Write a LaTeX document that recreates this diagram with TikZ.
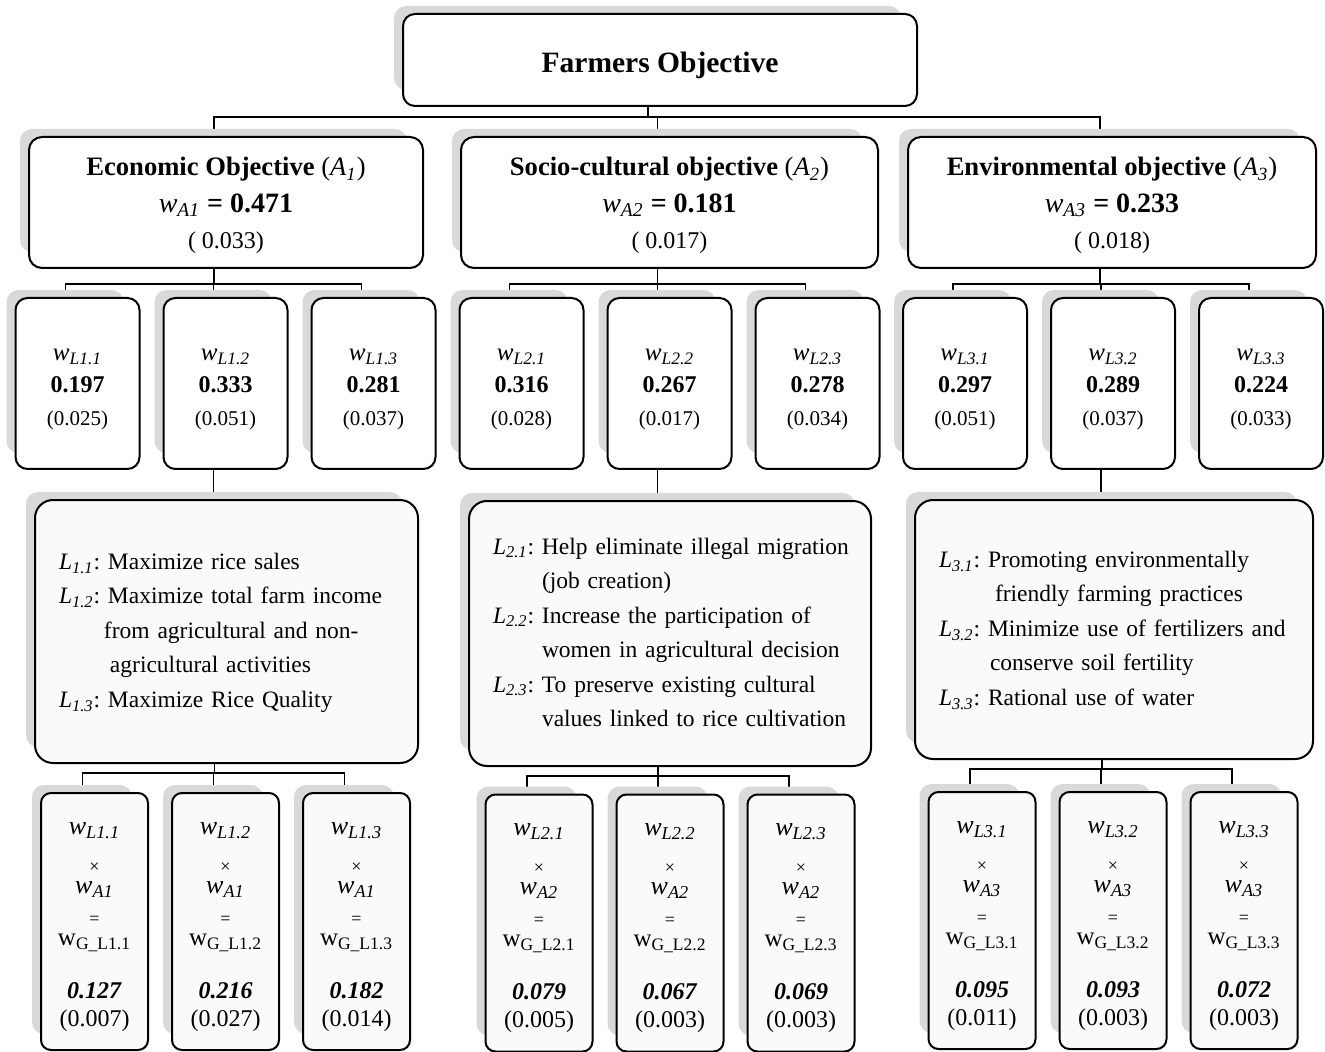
\documentclass[tikz,border=0pt]{standalone}
\usepackage{fontspec}
\setmainfont{Liberation Serif}
\usetikzlibrary{positioning}
\pgfdeclarelayer{back}
\pgfsetlayers{back,main}

% weights and labels
\newcommand{\wi}[1]{\textit{w}\textsubscript{\textit{#1}}}
\newcommand{\li}[1]{\textit{L}\textsubscript{\textit{#1}}}
\newcommand{\ai}[1]{\textit{A}\textsubscript{\textit{#1}}}
\newcommand{\wg}[1]{w\textsubscript{G\_#1}}
% local weight box text
\newcommand{\loc}[3]{\rule{0pt}{11.7pt}{\fontsize{12.5}{16.25}\selectfont\wi{L#1}}\\\textbf{#2}\\{\fontsize{10.5}{16.25}\selectfont(#3)}}
% global weight box text
\newcommand{\glob}[4]{\rule{0pt}{11.5pt}{\fontsize{13}{12}\selectfont\wi{L#1}}\\[7pt]{\fontsize{9}{12}\selectfont ×}\\[-1.5pt]{\fontsize{13}{12}\selectfont\wi{A#2}}\\[3.5pt]{\fontsize{9}{12}\selectfont =}\\[-1.5pt]{\fontsize{12.5}{12}\selectfont\wg{L#1}}\\[14.5pt]\textbf{\textit{#3}}\\[2pt](#4)}
% criterion box text
\newcommand{\crt}[4]{\rule{0pt}{12.5pt}\textbf{#1} (\ai{#2})\\{\fontsize{14}{18.25}\selectfont\wi{A#2} \textbf{= #3}}\\{\fontsize{12}{18.25}\selectfont( #4)}}

\begin{document}
\begin{tikzpicture}[
    x=0.5pt, y=-0.5pt,
    every node/.style={outer sep=0pt},
    goal/.style={draw, line width=1pt, rounded corners=6pt, fill=white, minimum width=257pt, minimum height=46pt, font=\fontsize{14.75}{17}\selectfont\bfseries},
    crit/.style={draw, line width=1pt, rounded corners=6.5pt, fill=white, minimum height=65.5pt, align=center, font=\fontsize{13.3}{18.25}\selectfont},
    wbox/.style={draw, line width=1pt, rounded corners=6pt, fill=white, minimum width=62pt, minimum height=85.5pt, align=center, font=\fontsize{12}{16.25}\selectfont},
    tbox/.style={draw, line width=1pt, rounded corners=9pt, fill=black!2, inner xsep=12pt, align=left, font=\fontsize{11.75}{17.25}\selectfont},
    gbox/.style={draw, line width=1pt, rounded corners=5pt, fill=black!2, minimum width=53.5pt, minimum height=128.5pt, align=center, font=\fontsize{12}{12}\selectfont},
    link/.style={line width=0.6pt},
    backdrop/.style={fill=black!15, rounded corners=6pt}
  ]
  \useasboundingbox (0,0) rectangle (1325,1052);

  \node[goal] (goal) at (660,60) {\rule{0pt}{15.5pt}Farmers Objective};

  \node[crit, minimum width=197pt] (A1) at (226,202.5) {\crt{Economic Objective}{1}{0.471}{0.033}};
  \node[crit, minimum width=208.5pt] (A2) at (669.5,202.5) {\crt{Socio-cultural objective}{2}{0.181}{0.017}};
  \node[crit, minimum width=204pt] (A3) at (1112,202.5) {\crt{Environmental objective}{3}{0.233}{0.018}};

  % local weights
  \node[wbox] (L12) at (225.5,383.5) {\loc{1.2}{0.333}{0.051}};
  \node[wbox, left=12pt of L12] (L11) {\loc{1.1}{0.197}{0.025}};
  \node[wbox, right=12pt of L12] (L13) {\loc{1.3}{0.281}{0.037}};
  \node[wbox] (L22) at (669.5,383.5) {\loc{2.2}{0.267}{0.017}};
  \node[wbox, left=12pt of L22] (L21) {\loc{2.1}{0.316}{0.028}};
  \node[wbox, right=12pt of L22] (L23) {\loc{2.3}{0.278}{0.034}};
  \node[wbox] (L32) at (1113,383.5) {\loc{3.2}{0.289}{0.037}};
  \node[wbox, left=12pt of L32] (L31) {\loc{3.1}{0.297}{0.051}};
  \node[wbox, right=12pt of L32] (L33) {\loc{3.3}{0.224}{0.033}};

  % sub-objectives
  \node[tbox, text width=167.5pt, minimum height=131.5pt] (T1) at (226.5,631.5) {\begin{tabular}{@{}l@{\ }l@{}}
    \li{1.1}: & Maximize rice sales\\
    \li{1.2}: & Maximize total farm income\\
    & \hspace{-2pt}from agricultural and non-\\
    & \hspace{1pt}agricultural activities\\
    \li{1.3}: & Maximize Rice Quality
  \end{tabular}};
  \node[tbox, text width=177pt, minimum height=132.5pt] (T2) at (670,633.5) {\begin{tabular}{@{}l@{\ }l@{}}
    \li{2.1}: & Help eliminate illegal migration\\
    & (job creation)\\
    \li{2.2}: & Increase the participation of\\
    & women in agricultural decision\\
    \li{2.3}: & To preserve existing cultural\\
    & values linked to rice cultivation
  \end{tabular}};
  \node[tbox, text width=175pt, minimum height=129.5pt] (T3) at (1114,629.5) {\begin{tabular}{@{}l@{\ }l@{}}
    \li{3.1}: & Promoting environmentally\\
    & \hspace{3.5pt}friendly farming practices\\
    \li{3.2}: & Minimize use of fertilizers and\\
    & \hspace{1pt}conserve soil fertility\\
    \li{3.3}: & Rational use of water
  \end{tabular}};

  % global weights
  \node[gbox] (B12) at (225.5,921.5) {\glob{1.2}{1}{0.216}{0.027}};
  \node[gbox, left=12pt of B12] (B11) {\glob{1.1}{1}{0.127}{0.007}};
  \node[gbox, right=12pt of B12] (B13) {\glob{1.3}{1}{0.182}{0.014}};
  \node[gbox] (B22) at (670,923) {\glob{2.2}{2}{0.067}{0.003}};
  \node[gbox, left=12pt of B22] (B21) {\glob{2.1}{2}{0.079}{0.005}};
  \node[gbox, right=12pt of B22] (B23) {\glob{2.3}{2}{0.069}{0.003}};
  \node[gbox] (B32) at (1113,920.5) {\glob{3.2}{3}{0.093}{0.003}};
  \node[gbox, left=12pt of B32] (B31) {\glob{3.1}{3}{0.095}{0.011}};
  \node[gbox, right=12pt of B32] (B33) {\glob{3.3}{3}{0.072}{0.003}};

  \begin{pgfonlayer}{back}
    % connectors
    \foreach \i in {1,2,3}
      \draw[link] ([xshift=-6pt]goal.south) -- ++(0,11) -| ([xshift=-6pt]A\i.north);
    \foreach \i in {1,2,3} {
      \foreach \j in {1,2,3} {
        \draw[link] ([xshift=-6pt]A\i.south) -- ++(0,16) -| ([xshift=-6pt]L\i\j.north);
        \draw[link] ([xshift=-6pt]T\i.south) -- ++(0,10) -| ([xshift=-6pt]B\i\j.north);
      }
      \draw[link] ([xshift=-6pt]L\i2.south) -- ([xshift=-6pt]L\i2.south |- T\i.north);
    }
    % shadows
    \foreach \n in {goal,A1,A2,A3,L11,L12,L13,L21,L22,L23,L31,L32,L33,T1,T2,T3,B11,B12,B13,B21,B22,B23,B31,B32,B33}
      \fill[backdrop] ([xshift=-4.5pt,yshift=4pt]\n.north west) rectangle ([xshift=-8pt,yshift=8pt]\n.south east);
  \end{pgfonlayer}
\end{tikzpicture}
\end{document}
